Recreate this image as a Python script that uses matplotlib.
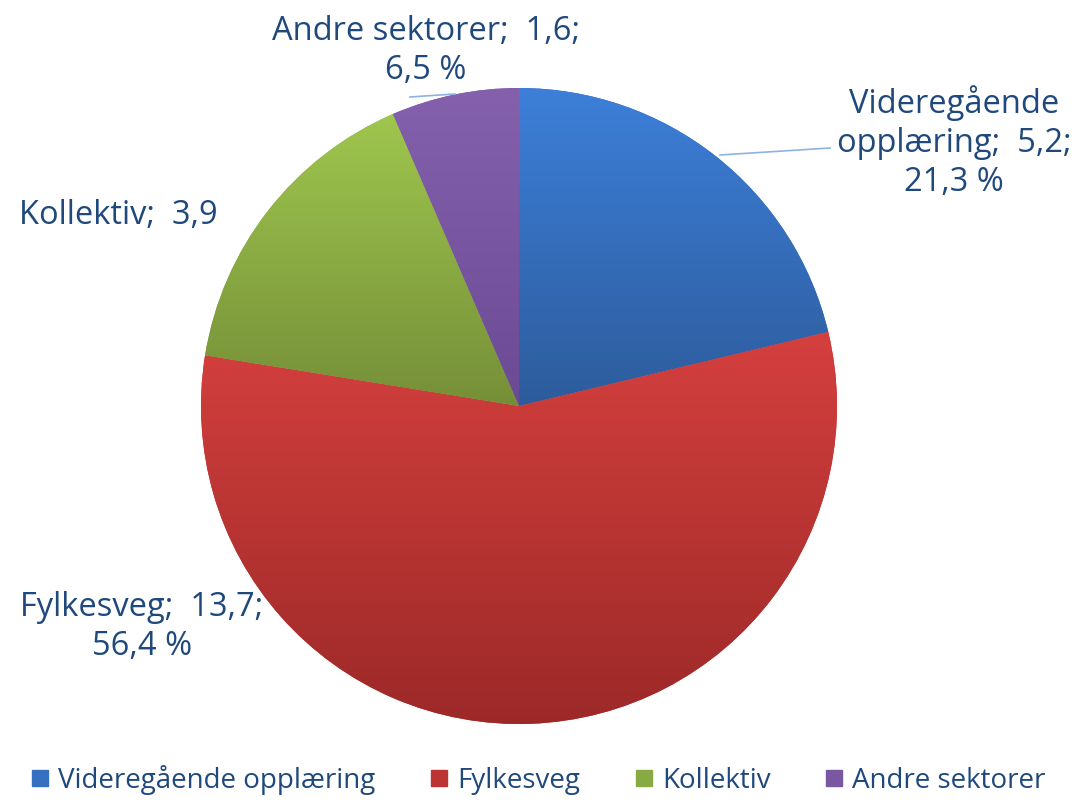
import numpy as np
import matplotlib.pyplot as plt
from matplotlib.colors import LinearSegmentedColormap
from matplotlib.lines import Line2D

plt.rcParams['font.family'] = ['Open Sans', 'DejaVu Sans']

# data
sektorer = ["Videregående opplæring", "Fylkesveg", "Kollektiv", "Andre sektorer"]
verdier = [5.2, 13.7, 3.9, 1.6]
prosent = [21.3, 56.4, 16.0, 6.5]
vis_prosent = [True, True, False, True]

# farger (topp, bunn) for gradient
farger_topp = ["#3d7fd9", "#d4403e", "#9fc64e", "#8561ad"]
farger_bunn = ["#2d5c9c", "#9c2928", "#758f38", "#6b4a94"]
farger_mid = ["#3670c0", "#bc3533", "#88aa42", "#7957a2"]
tekstfarge = "#1f497d"

W, H = 1081, 802
fig = plt.figure(figsize=(W / 100, H / 100), dpi=100)
ax = fig.add_axes([0, 0, 1, 1])

senter = (519, H - 406)
radius = 318

wedges, _ = ax.pie(prosent, center=senter, radius=radius, startangle=90,
                   counterclock=False, colors=farger_mid,
                   wedgeprops=dict(linewidth=0), frame=True)

# gradient i hver sektor
for w, top, bot in zip(wedges, farger_topp, farger_bunn):
    verts = w.get_path().vertices
    x0, y0 = verts.min(axis=0)
    x1, y1 = verts.max(axis=0)
    cmap = LinearSegmentedColormap.from_list("g", [bot, top])
    grad = np.linspace(0, 1, 256).reshape(-1, 1)
    im = ax.imshow(grad, cmap=cmap, extent=[x0, x1, y0, y1], origin="lower",
                   aspect="auto", zorder=2)
    im.set_clip_path(w)

def fmt(v):
    return f"{v:.1f}".replace(".", ",")

# etiketter
etiketter = []
for navn, v, p, vis in zip(sektorer, verdier, prosent, vis_prosent):
    navn = navn.replace(" ", "\n", 1) if navn == "Videregående opplæring" else navn
    t = f"{navn};  {fmt(v)}"
    if vis:
        t += f";\n{fmt(p)} %"
    etiketter.append(t)

pos = [(954, H - 142), (142, H - 627), (118, H - 215), (426, H - 51)]
for t, (x, y) in zip(etiketter, pos):
    ax.text(x, y, t, ha="center", va="center", fontsize=23.5, color=tekstfarge,
            linespacing=1.25, zorder=5)

# ledelinjer
ax.plot([720, 830], [H - 155, H - 148], color="#8db3e2", lw=1.2, zorder=4)
ax.plot([410, 455], [H - 97, H - 94], color="#8db3e2", lw=1.2, zorder=4)

ax.set_xlim(0, W)
ax.set_ylim(0, H)
ax.set_aspect("equal")
ax.axis("off")

# legend
handles = [Line2D([], [], marker="s", linestyle="none", markersize=12,
                  markerfacecolor=c, markeredgecolor=c) for c in farger_mid]
fig.legend(handles, sektorer, loc="center", bbox_to_anchor=(0.497, 1 - 780 / H),
           ncol=4, frameon=False, fontsize=20, labelcolor=tekstfarge,
           handletextpad=0.25, columnspacing=1.9, handlelength=0.8)

fig.savefig("out.png", dpi=100)
